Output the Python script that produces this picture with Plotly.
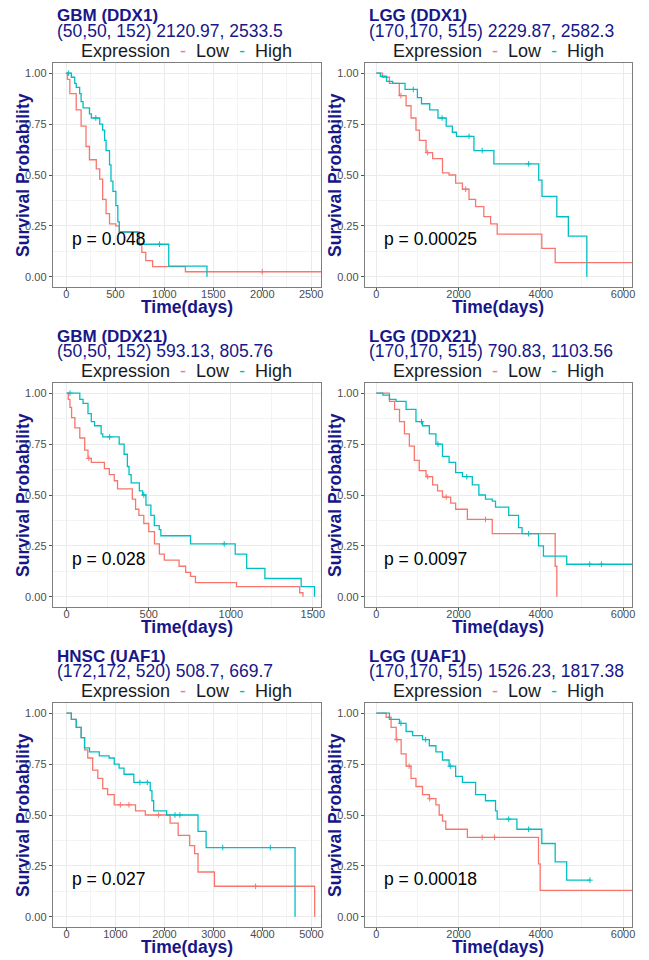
import bisect
import plotly.graph_objects as go

LOW = "#F8766D"
HIGH = "#00BFC4"
NAVY = "#17178A"
FONT = "Liberation Sans, Arial, sans-serif"
# the page body has an 8px margin, so the figure is drawn 8px in from the corner
PAD = 8
W, H = 649 - PAD, 960 - PAD

# ---- data (days, survival probability) ----
titles = ["GBM (DDX1)", "LGG (DDX1)", "GBM (DDX21)", "LGG (DDX21)", "HNSC (UAF1)", "LGG (UAF1)"]
subtitles = [
    "(50,50, 152) 2120.97, 2533.5",
    "(170,170, 515) 2229.87, 2582.3",
    "(50,50, 152) 593.13, 805.76",
    "(170,170, 515) 790.83, 1103.56",
    "(172,172, 520) 508.7, 669.7",
    "(170,170, 515) 1526.23, 1817.38",
]
pvalues = ["p = 0.048", "p = 0.00025", "p = 0.028", "p = 0.0097", "p = 0.027", "p = 0.00018"]

x_ranges = [[-140, 2600], [-280, 6220], [-85, 1550], [-280, 6220], [-280, 5195], [-280, 6220]]
x_dticks = [500, 2000, 500, 2000, 1000, 2000]

# GBM (DDX1)
gbm_ddx1_low_t = [0, 10, 35, 100, 150, 200, 235, 305, 340, 370, 405, 440, 505, 540, 745, 770, 810, 880, 1215, 2600]
gbm_ddx1_low_s = [1.0, 0.97, 0.90, 0.82, 0.74, 0.64, 0.575, 0.53, 0.48, 0.38, 0.31, 0.26, 0.25, 0.22, 0.155, 0.12, 0.08, 0.05, 0.025, 0.025]
gbm_ddx1_high_t = [0, 50, 85, 100, 135, 150, 170, 235, 255, 340, 370, 390, 405, 440, 455, 475, 505, 525, 540, 725, 1045, 1435]
gbm_ddx1_high_s = [1.0, 0.98, 0.95, 0.93, 0.90, 0.86, 0.83, 0.80, 0.78, 0.75, 0.72, 0.67, 0.62, 0.55, 0.47, 0.42, 0.35, 0.27, 0.22, 0.16, 0.053, 0.0]
gbm_ddx1_low_cens = [2000]
gbm_ddx1_high_cens = [20, 300, 950]

# LGG (DDX1)
lgg_ddx1_low_t = [0, 150, 320, 560, 725, 845, 965, 1050, 1210, 1370, 1610, 1770, 1930, 2095, 2255, 2415, 2615, 2780, 2940, 4025, 4350, 6220]
lgg_ddx1_low_s = [1.0, 0.98, 0.95, 0.89, 0.84, 0.78, 0.72, 0.67, 0.61, 0.58, 0.51, 0.50, 0.46, 0.43, 0.38, 0.345, 0.296, 0.26, 0.21, 0.14, 0.07, 0.07]
lgg_ddx1_high_t = [0, 100, 250, 400, 700, 1000, 1100, 1300, 1500, 1700, 1850, 1950, 2375, 2860, 3950, 4030, 4390, 4670, 5120]
lgg_ddx1_high_s = [1.0, 0.985, 0.96, 0.95, 0.92, 0.88, 0.85, 0.82, 0.78, 0.74, 0.71, 0.69, 0.62, 0.555, 0.475, 0.395, 0.295, 0.20, 0.0]
lgg_ddx1_low_cens = [600, 1250, 2175]
lgg_ddx1_high_cens = [900, 1600, 2255, 2575, 3705]

# GBM (DDX21)
gbm_ddx21_low_t = [0, 10, 20, 30, 50, 80, 110, 130, 150, 230, 260, 290, 310, 400, 420, 440, 470, 500, 535, 565, 595, 685, 725, 755, 785, 1035, 1420, 1440]
gbm_ddx21_low_s = [1.0, 0.97, 0.93, 0.88, 0.83, 0.78, 0.72, 0.68, 0.66, 0.63, 0.60, 0.57, 0.53, 0.48, 0.43, 0.40, 0.36, 0.32, 0.26, 0.21, 0.18, 0.15, 0.12, 0.10, 0.07, 0.05, 0.02, 0.0]
gbm_ddx21_high_t = [0, 80, 100, 130, 150, 170, 210, 220, 320, 350, 370, 380, 393, 443, 463, 483, 513, 534, 564, 574, 755, 1027, 1097, 1208, 1429, 1510]
gbm_ddx21_high_s = [1.0, 0.97, 0.95, 0.90, 0.86, 0.84, 0.80, 0.785, 0.75, 0.70, 0.64, 0.60, 0.56, 0.52, 0.50, 0.45, 0.40, 0.35, 0.33, 0.30, 0.26, 0.21, 0.14, 0.09, 0.05, 0.0]
gbm_ddx21_low_cens = [135]
gbm_ddx21_high_cens = [20, 262, 470, 960]

# LGG (DDX21)
lgg_ddx21_low_t = [0, 320, 445, 565, 685, 805, 925, 1045, 1210, 1370, 1490, 1610, 1810, 1930, 2215, 2820, 4350, 4390]
lgg_ddx21_low_s = [1.0, 0.96, 0.92, 0.86, 0.80, 0.74, 0.67, 0.62, 0.59, 0.55, 0.52, 0.49, 0.46, 0.43, 0.38, 0.31, 0.15, 0.0]
lgg_ddx21_high_t = [0, 160, 320, 480, 725, 965, 1125, 1290, 1450, 1610, 1770, 1930, 2095, 2335, 2495, 2655, 2820, 2900, 3220, 3460, 3545, 3945, 4065, 4630, 6220]
lgg_ddx21_high_s = [1.0, 0.99, 0.97, 0.96, 0.92, 0.86, 0.84, 0.80, 0.75, 0.69, 0.66, 0.61, 0.59, 0.55, 0.50, 0.48, 0.47, 0.44, 0.40, 0.34, 0.31, 0.25, 0.20, 0.16, 0.16]
lgg_ddx21_low_cens = [1250, 1700, 2655]
lgg_ddx21_high_cens = [1100, 1500, 2200, 3705, 5190, 5475]

# HNSC (UAF1)
hnsc_uaf1_low_t = [0, 100, 200, 300, 370, 435, 535, 640, 740, 840, 975, 1410, 1610, 2115, 2280, 2515, 2615, 2685, 3020, 5065]
hnsc_uaf1_low_s = [1.0, 0.97, 0.93, 0.88, 0.82, 0.78, 0.72, 0.68, 0.63, 0.60, 0.55, 0.52, 0.50, 0.46, 0.40, 0.35, 0.31, 0.22, 0.15, 0.0]
hnsc_uaf1_high_t = [0, 100, 200, 300, 370, 470, 670, 870, 975, 1075, 1175, 1375, 1710, 1745, 1780, 2045, 2685, 2850, 4665]
hnsc_uaf1_high_s = [1.0, 0.97, 0.93, 0.88, 0.83, 0.81, 0.79, 0.78, 0.75, 0.73, 0.70, 0.66, 0.62, 0.57, 0.52, 0.50, 0.42, 0.34, 0.0]
hnsc_uaf1_low_cens = [1100, 1275, 1880, 3860]
hnsc_uaf1_high_cens = [1500, 1650, 2215, 2315, 3190, 4160]

# LGG (UAF1)
lgg_uaf1_low_t = [0, 240, 360, 485, 605, 725, 845, 965, 1125, 1290, 1450, 1530, 1610, 1690, 2215, 3945, 3985, 6220]
lgg_uaf1_low_s = [1.0, 0.98, 0.93, 0.87, 0.80, 0.74, 0.68, 0.64, 0.60, 0.58, 0.55, 0.50, 0.47, 0.43, 0.39, 0.26, 0.13, 0.13]
lgg_uaf1_high_t = [0, 320, 565, 725, 885, 1125, 1290, 1450, 1610, 1770, 1930, 2095, 2415, 2655, 2900, 2940, 3420, 4025, 4350, 4630, 5195]
lgg_uaf1_high_s = [1.0, 0.97, 0.95, 0.91, 0.89, 0.87, 0.84, 0.81, 0.77, 0.74, 0.69, 0.66, 0.60, 0.57, 0.52, 0.48, 0.43, 0.36, 0.27, 0.18, 0.18]
lgg_uaf1_low_cens = [500, 800, 1300, 2575, 2875]
lgg_uaf1_high_cens = [600, 1200, 1800, 3220, 3705, 5195]

panels = [
    (gbm_ddx1_low_t, gbm_ddx1_low_s, gbm_ddx1_low_cens, gbm_ddx1_high_t, gbm_ddx1_high_s, gbm_ddx1_high_cens),
    (lgg_ddx1_low_t, lgg_ddx1_low_s, lgg_ddx1_low_cens, lgg_ddx1_high_t, lgg_ddx1_high_s, lgg_ddx1_high_cens),
    (gbm_ddx21_low_t, gbm_ddx21_low_s, gbm_ddx21_low_cens, gbm_ddx21_high_t, gbm_ddx21_high_s, gbm_ddx21_high_cens),
    (lgg_ddx21_low_t, lgg_ddx21_low_s, lgg_ddx21_low_cens, lgg_ddx21_high_t, lgg_ddx21_high_s, lgg_ddx21_high_cens),
    (hnsc_uaf1_low_t, hnsc_uaf1_low_s, hnsc_uaf1_low_cens, hnsc_uaf1_high_t, hnsc_uaf1_high_s, hnsc_uaf1_high_cens),
    (lgg_uaf1_low_t, lgg_uaf1_low_s, lgg_uaf1_low_cens, lgg_uaf1_high_t, lgg_uaf1_high_s, lgg_uaf1_high_cens),
]

# panel frames in window pixels: (left, right) per column, (top, bottom) per row
cols_px = [(53, 323), (367, 636)]
rows_px = [(63, 287), (383, 607), (703, 927)]


def px_x(p):
    return (p - PAD) / W


def px_y(p):
    return 1 - (p - PAD) / H


def step_at(ts, ss, t):
    i = bisect.bisect_right(ts, t) - 1
    return ss[max(i, 0)]


fig = go.Figure()
annotations = []
layout = {}

for k, (lt, ls, lc, ht, hs, hc) in enumerate(panels):
    r, c = divmod(k, 2)
    n = k + 1
    xa, ya = ("x%d" % n if n > 1 else "x"), ("y%d" % n if n > 1 else "y")
    x0, x1 = cols_px[c]
    top, bot = rows_px[r]

    for t, s, cens, col in [(lt, ls, lc, LOW), (ht, hs, hc, HIGH)]:
        fig.add_trace(go.Scatter(
            x=t, y=s, mode="lines", line=dict(color=col, width=1.3, shape="hv"),
            xaxis=xa, yaxis=ya, showlegend=False, hoverinfo="skip",
        ))
        fig.add_trace(go.Scatter(
            x=cens, y=[step_at(t, s, v) for v in cens], mode="markers",
            marker=dict(symbol="cross-thin", size=4, line=dict(color=col, width=1)),
            xaxis=xa, yaxis=ya, showlegend=False, hoverinfo="skip",
        ))

    dt = x_dticks[k]
    layout["xaxis%d" % n] = dict(
        domain=[px_x(x0), px_x(x1)], anchor=ya, range=x_ranges[k],
        tick0=0, dtick=dt, showline=True, mirror=True, linecolor="#7f7f7f", linewidth=1,
        ticks="outside", ticklen=3, tickcolor="#555", tickfont=dict(size=11, color="#4D4D4D"),
        ticklabelstandoff=-6,
        showgrid=True, gridcolor="#EBEBEB", zeroline=False,
        minor=dict(dtick=dt / 2, tick0=0, showgrid=True, gridcolor="#F3F3F3", ticks=""),
    )
    layout["yaxis%d" % n] = dict(
        domain=[px_y(bot), px_y(top)], anchor=xa, range=[-0.05, 1.05],
        tick0=0, dtick=0.25, tickformat=".2f", showline=True, mirror=True,
        linecolor="#7f7f7f", linewidth=1, ticks="outside", ticklen=3, tickcolor="#555",
        tickfont=dict(size=11, color="#4D4D4D"),
        showgrid=True, gridcolor="#EBEBEB", zeroline=False,
        minor=dict(dtick=0.125, tick0=0, showgrid=True, gridcolor="#F3F3F3", ticks=""),
    )

    cx = (x0 + x1) / 2
    annotations += [
        dict(text="<b>%s</b>" % titles[k], x=px_x(x0 + 2), y=px_y(top - 47),
             xanchor="left", yanchor="middle", font=dict(size=17, color=NAVY)),
        dict(text=subtitles[k], x=px_x(x0 + 2), y=px_y(top - 32),
             xanchor="left", yanchor="middle", font=dict(size=17.5, color=NAVY)),
        dict(text="Expression&nbsp;&nbsp;<span style='color:%s'>-</span>&nbsp;&nbsp;Low"
                  "&nbsp;&nbsp;<span style='color:%s'>-</span>&nbsp;&nbsp;High" % (LOW, HIGH),
             x=px_x(cx), y=px_y(top - 12), xanchor="center", yanchor="middle",
             font=dict(size=18, color="#1a1a1a")),
        dict(text="<b>Survival Probability</b>", x=px_x(x0 - 30), y=px_y((top + bot) / 2),
             xanchor="center", yanchor="middle", textangle=-90, font=dict(size=17.5, color=NAVY)),
        dict(text="<b>Time(days)</b>", x=px_x(cx), y=px_y(bot + 19.5),
             xanchor="center", yanchor="middle", font=dict(size=17.5, color=NAVY)),
        dict(text=pvalues[k], xref="%s domain" % xa, yref="%s domain" % ya, x=0.065, y=0.215,
             xanchor="left", yanchor="middle", font=dict(size=17.5, color="#000")),
    ]

for a in annotations:
    a.setdefault("xref", "paper")
    a.setdefault("yref", "paper")
    a["showarrow"] = False

fig.update_layout(
    width=W, height=H, margin=dict(l=0, r=0, t=0, b=0),
    paper_bgcolor="white", plot_bgcolor="white",
    font=dict(family=FONT), annotations=annotations, **layout,
)

fig.write_html("out.html")
